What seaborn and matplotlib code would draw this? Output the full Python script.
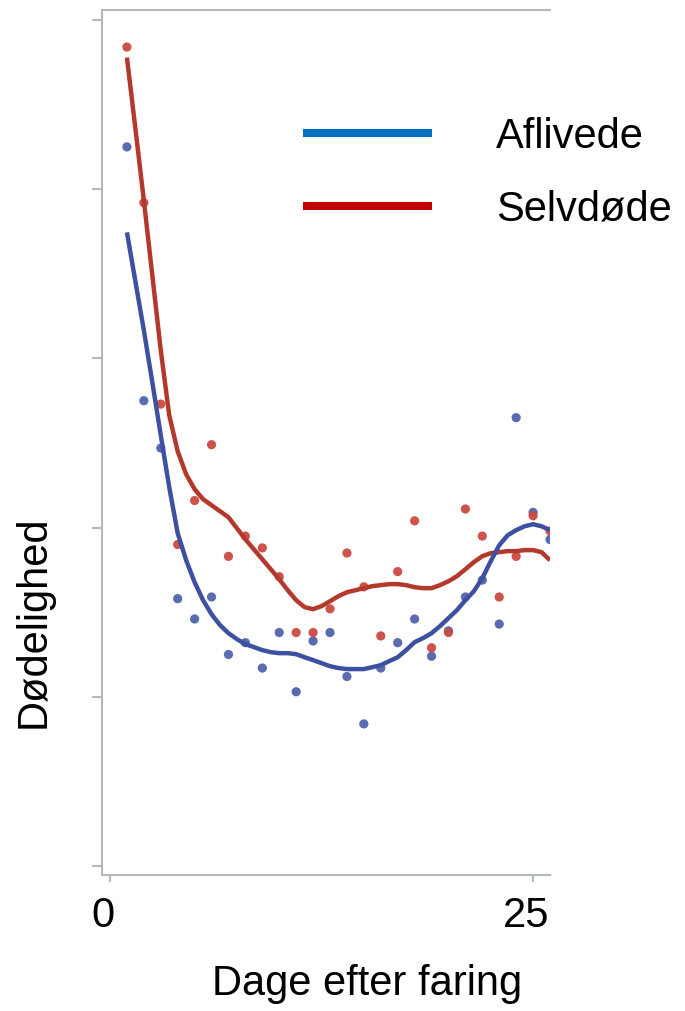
import numpy as np
import pandas as pd
import matplotlib
matplotlib.use("Agg")
import matplotlib.pyplot as plt
from matplotlib.lines import Line2D
from matplotlib.transforms import ScaledTranslation
import seaborn as sns

# ---- data ----
days = list(range(1, 27))
aflivede_pts = [4.25, 2.75, 2.47, 1.58, 1.46, 1.59, 1.25, 1.32, 1.17, 1.38, 1.03, 1.33, 1.38,
                1.12, 0.84, 1.17, 1.32, 1.46, 1.24, 1.39, 1.59, 1.69, 1.43, 2.65, 2.09, 1.93]
selvdoede_pts = [4.84, 3.92, 2.73, 1.90, 2.16, 2.49, 1.83, 1.95, 1.88, 1.71, 1.38, 1.38, 1.52,
                 1.85, 1.65, 1.36, 1.74, 2.04, 1.29, 1.38, 2.11, 1.95, 1.59, 1.83, 2.07, 1.98]

smooth_days = [1, 1.5, 2, 2.5, 3, 3.5, 4, 4.5, 5, 5.5, 6, 6.5, 7, 7.5, 8, 8.5, 9, 9.5, 10,
               10.5, 11, 11.5, 12, 12.5, 13, 13.5, 14, 14.5, 15, 15.5, 16, 16.5, 17, 17.5, 18,
               18.5, 19, 19.5, 20, 20.5, 21, 21.5, 22, 22.5, 23, 23.5, 24, 24.5, 25, 25.5, 26]
aflivede_smooth = [3.745, 3.455, 3.166, 2.859, 2.546, 2.239, 1.967, 1.807, 1.677, 1.571, 1.488,
                   1.424, 1.376, 1.341, 1.311, 1.294, 1.276, 1.264, 1.258, 1.258, 1.252, 1.234,
                   1.217, 1.199, 1.181, 1.170, 1.164, 1.164, 1.164, 1.175, 1.187, 1.211, 1.234,
                   1.276, 1.323, 1.347, 1.376, 1.418, 1.465, 1.512, 1.571, 1.624, 1.701, 1.802,
                   1.896, 1.955, 1.985, 2.008, 2.020, 2.008, 1.985]
selvdoede_smooth = [4.778, 4.359, 3.934, 3.491, 3.048, 2.664, 2.451, 2.315, 2.227, 2.168, 2.132,
                    2.097, 2.061, 1.996, 1.931, 1.872, 1.813, 1.754, 1.695, 1.630, 1.571, 1.530,
                    1.518, 1.536, 1.565, 1.595, 1.618, 1.630, 1.642, 1.654, 1.660, 1.666, 1.666,
                    1.660, 1.648, 1.642, 1.642, 1.660, 1.683, 1.713, 1.754, 1.796, 1.831, 1.849,
                    1.855, 1.861, 1.861, 1.867, 1.867, 1.855, 1.807]

groups = ["Aflivede", "Selvdøde"]
x_ticks = [0, 25]
y_ticks = [0, 1, 2, 3, 4, 5]

pts = pd.DataFrame({
    "Dag": days * 2,
    "Værdi": aflivede_pts + selvdoede_pts,
    "Gruppe": [groups[0]] * len(days) + [groups[1]] * len(days),
})
smooth = pd.DataFrame({
    "Dag": smooth_days * 2,
    "Værdi": aflivede_smooth + selvdoede_smooth,
    "Gruppe": [groups[0]] * len(smooth_days) + [groups[1]] * len(smooth_days),
})

# ---- styling ----
sns.set_style("white")
plt.rcParams["font.family"] = ["Liberation Sans", "DejaVu Sans"]
plt.rcParams["text.color"] = "black"
plt.rcParams["axes.labelcolor"] = "black"
plt.rcParams["xtick.color"] = "black"
plt.rcParams["ytick.color"] = "black"

dot_pal = {groups[0]: "#5064ac", groups[1]: "#cc4a40"}
line_pal = {groups[0]: "#3d51a0", groups[1]: "#b3392c"}
legend_cols = ["#0070c0", "#c00000"]
grey = "#b4b9be"

fig = plt.figure(figsize=(6.85, 10.11), dpi=100)
ax = fig.add_axes([102 / 685, 1 - 875 / 1011, 448 / 685, 865 / 1011])

sns.scatterplot(data=pts, x="Dag", y="Værdi", hue="Gruppe", palette=dot_pal,
                s=44, linewidth=0, alpha=0.95, legend=False, ax=ax, zorder=2)
sns.lineplot(data=smooth[smooth["Gruppe"] == groups[1]], x="Dag", y="Værdi",
             color=line_pal[groups[1]], linewidth=3.2, legend=False, ax=ax, zorder=3,
             solid_joinstyle="round", solid_capstyle="butt")
sns.lineplot(data=smooth[smooth["Gruppe"] == groups[0]], x="Dag", y="Værdi",
             color=line_pal[groups[0]], linewidth=3.2, legend=False, ax=ax, zorder=3,
             solid_joinstyle="round", solid_capstyle="butt")

ax.set_xlim(-0.473, 26.0)
ax.set_ylim(-0.053, 5.059)
ax.set_xticks(x_ticks)
ax.set_xticklabels([str(t) for t in x_ticks], fontsize=30, color="black")
ax.set_yticks(y_ticks)
ax.set_yticklabels([])

for side in ["left", "bottom", "top"]:
    ax.spines[side].set_visible(True)
    ax.spines[side].set_color(grey)
    ax.spines[side].set_linewidth(1.5)
ax.spines["right"].set_visible(False)

ax.tick_params(axis="y", direction="out", length=7.5, width=1.5, color=grey, left=True)
ax.tick_params(axis="x", direction="out", length=5, width=1.5, color=grey, bottom=True,
               pad=10, labelcolor="black")
for lab in ax.get_xticklabels():
    lab.set_transform(lab.get_transform() + ScaledTranslation(-7 / 100, 0, fig.dpi_scale_trans))

ax.set_xlabel("Dage efter faring", fontsize=30, color="black")
ax.xaxis.set_label_coords((367 - 102) / 448, (875 - 964) / 865)
ax.set_ylabel("Dødelighed", fontsize=30, color="black")
ax.yaxis.set_label_coords((54 - 102) / 448, (875 - 622) / 865)

handles = [Line2D([], [], color=c, linewidth=5.8, solid_capstyle="butt") for c in legend_cols]
leg = fig.legend(handles, groups, loc="upper left",
                 bbox_to_anchor=(286 / 685, 1 - 100 / 1011), frameon=False, fontsize=30,
                 handlelength=3.1, handletextpad=1.55, labelspacing=0.78, borderaxespad=0)
for t in leg.get_texts():
    t.set_color("black")

fig.savefig("out.png", dpi=100)
